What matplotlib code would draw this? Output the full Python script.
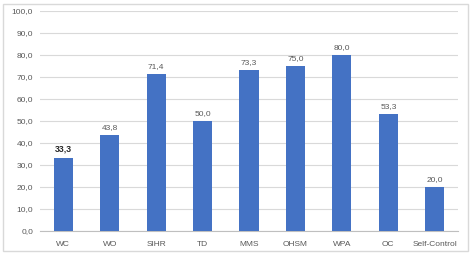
import numpy as np
import matplotlib
matplotlib.use('Agg')
from matplotlib import pyplot as plt
from matplotlib.patches import Rectangle

categories = ['WC', 'WO', 'SIHR', 'TD', 'MMS', 'OHSM', 'WPA', 'OC', 'Self-Control']
values = [33.3, 43.8, 71.4, 50.0, 73.3, 75.0, 80.0, 53.3, 20.0]
y_ticks = [0, 10, 20, 30, 40, 50, 60, 70, 80, 90, 100]

bar_color = '#4472C4'
text_color = '#595959'
plt.rcParams['font.family'] = ['Liberation Sans', 'DejaVu Sans']

fig = plt.figure(figsize=(4.71, 2.54), dpi=100)
ax = fig.add_axes([40 / 471, 1 - 231 / 254, 418 / 471, 220 / 254])

x = np.arange(len(categories))
ax.bar(x, values, width=0.41, color=bar_color, zorder=3)

for i, v in enumerate(values):
    label = f'{v:.1f}'.replace('.', ',')
    if i == 0:
        ax.text(i, v + 1.8, label, ha='center', va='bottom', fontsize=6.3,
                color='#262626', fontweight='bold')
    else:
        ax.text(i, v + 1.8, label, ha='center', va='bottom', fontsize=6, color=text_color)

ax.set_xlim(-0.5, len(categories) - 0.5)
ax.set_ylim(0, 100)
ax.set_yticks(y_ticks)
ax.set_yticklabels([f'{t:.1f}'.replace('.', ',') for t in y_ticks])
ax.set_xticks(x)
ax.set_xticklabels(categories)
ax.tick_params(axis='both', length=0, labelsize=6, labelcolor=text_color)
ax.tick_params(axis='x', pad=7)
ax.tick_params(axis='y', pad=5)
ax.grid(axis='y', color='#d9d9d9', linewidth=0.8, zorder=0)
for s in ['top', 'right', 'left']:
    ax.spines[s].set_visible(False)
ax.spines['bottom'].set_color('#bfbfbf')
ax.spines['bottom'].set_linewidth(0.8)

# outer chart border
fig.patches.append(Rectangle((3 / 471, 3 / 254), 465 / 471, 247 / 254, transform=fig.transFigure,
                             fill=False, edgecolor='#d9d9d9', linewidth=1))

fig.savefig('out.png', dpi=100)
